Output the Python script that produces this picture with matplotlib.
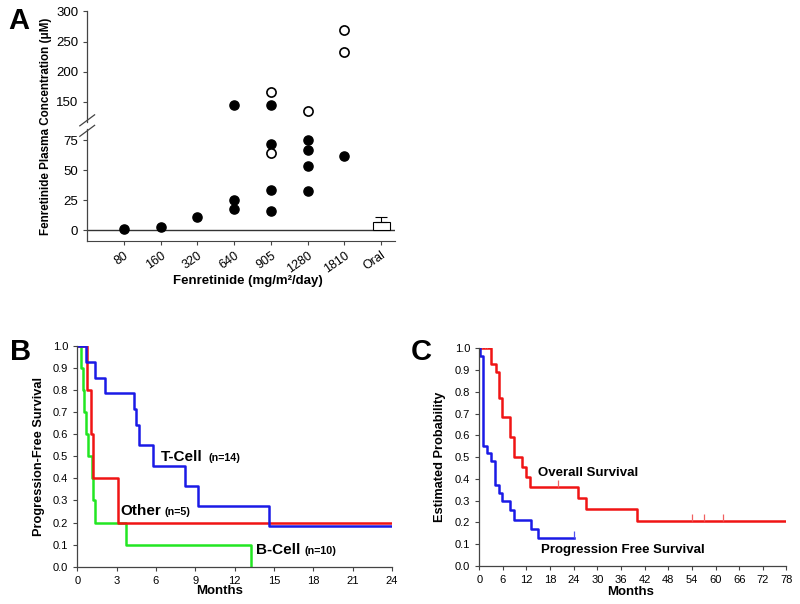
import numpy as np
import matplotlib
matplotlib.use('Agg')
import matplotlib.pyplot as plt

plt.rcParams['font.family'] = ['Liberation Sans', 'DejaVu Sans']

# ---- Panel A data
dose_labels = ['80', '160', '320', '640', '905', '1280', '1810', 'Oral']
filled_x = [1, 2, 3, 4, 4, 4, 5, 5, 5, 5, 6, 6, 6, 6, 7]
filled_y = [1.1, 2.8, 11.4, 144.5, 25.5, 18.0, 145.0, 71.7, 33.3, 15.6, 75.3, 67.0, 53.3, 32.5, 62.0]
open_x = [5, 5, 6, 7, 7]
open_y = [165.5, 64.4, 135.5, 269.5, 232.0]
oral_mean = 7.2
oral_err = 4.2
yticks_a = [0, 25, 50, 75, 150, 200, 250, 300]

# ---- Panel B data (Kaplan-Meier steps)
t_cell_t = [0, 0.66, 1.32, 2.1, 4.3, 4.47, 4.67, 5.8, 8.2, 9.17, 14.63, 24]
t_cell_s = [1.0, 0.929, 0.857, 0.786, 0.714, 0.643, 0.55, 0.458, 0.367, 0.275, 0.183, 0.183]
other_t = [0, 0.73, 1.08, 1.2, 3.07, 24]
other_s = [1.0, 0.8, 0.6, 0.4, 0.2, 0.2]
b_cell_t = [0, 0.25, 0.46, 0.51, 0.66, 0.84, 1.14, 1.19, 1.32, 3.73, 13.23]
b_cell_s = [1.0, 0.9, 0.8, 0.7, 0.6, 0.5, 0.4, 0.3, 0.2, 0.1, 0.0]

# ---- Panel C data
os_t = [0, 3.0, 4.2, 5.07, 5.8, 7.86, 8.96, 10.9, 11.8, 12.85, 25.1, 27.0, 40.0, 78]
os_s = [1.0, 0.93, 0.89, 0.77, 0.685, 0.594, 0.5, 0.455, 0.41, 0.364, 0.312, 0.26, 0.209, 0.209]
os_cens_t = [0.8, 1.4, 2.0, 20, 54, 57, 62]
pfs_t = [0, 0.3, 0.93, 1.94, 2.96, 4.06, 5.0, 5.8, 7.9, 8.9, 13.1, 15.0, 24.1]
pfs_s = [1.0, 0.966, 0.55, 0.517, 0.483, 0.37, 0.335, 0.297, 0.259, 0.212, 0.169, 0.127, 0.127]
pfs_cens_t = [24.1]

BLUE = '#1a1ae6'
RED = '#f01414'
GREEN = '#22e622'
SPINE = '#444444'

# broken y scale for panel A
vals = [-1000, 84, 124, 1000]
scr = [-1200, 100.8, 112.65, 128.3 + 0.602 * 850]


def fwd(y):
    return np.interp(y, vals, scr)


def inv(s):
    return np.interp(s, scr, vals)


def km_value(t, times, surv):
    i = np.searchsorted(times, t, side='right') - 1
    return surv[i]


fig = plt.figure(figsize=(8, 6.04), dpi=100)

# ================= A
axA = fig.add_axes([0.109, 0.601, 0.385, 0.380])
axA.set_yscale('function', functions=(fwd, inv))
axA.set_ylim(-9, 300)
axA.set_xlim(0, 8.38)
axA.plot(filled_x, filled_y, 'o', ms=6.6, color='black', mec='black', zorder=3)
axA.plot(open_x, open_y, 'o', ms=6.6, mfc='white', mec='black', mew=1.2, zorder=3)
axA.bar([8], [oral_mean], width=0.47, color='white', edgecolor='black', lw=0.8,
        yerr=[[0], [oral_err]], capsize=4, error_kw=dict(lw=0.8, capthick=0.8), zorder=2)
axA.axhline(0, color='#333333', lw=1.0, zorder=1)
axA.set_yticks(yticks_a)
axA.set_yticklabels([str(v) for v in yticks_a])
axA.set_xticks(range(1, 9))
axA.set_xticklabels(dose_labels, rotation=35, ha='right', rotation_mode='anchor')
axA.tick_params(axis='both', direction='out', length=3, width=0.8, color=SPINE, labelsize=9.5)
axA.tick_params(axis='x', pad=3, labelsize=9)
for s in ['top', 'right', 'left']:
    axA.spines[s].set_visible(False)
axA.spines['bottom'].set_color(SPINE)
# left spine with break marks
ytr = axA.get_yaxis_transform()
lo_c, hi_c = 99.3, 109.8
axA.plot([0, 0], [-9, inv(lo_c + 2)], color=SPINE, lw=0.9, transform=ytr, clip_on=False)
axA.plot([0, 0], [inv(hi_c - 2), 300], color=SPINE, lw=0.9, transform=ytr, clip_on=False)
for c in (lo_c, hi_c):
    axA.plot([-0.024, 0.024], [inv(c - 5.5), inv(c + 5.5)], color=SPINE, lw=0.9,
             transform=ytr, clip_on=False)
axA.set_ylabel('Fenretinide Plasma Concentration (μM)', fontsize=8.4, fontweight='bold')
axA.yaxis.set_label_coords(-0.113, 0.5)
axA.set_xlabel('Fenretinide (mg/m²/day)', fontsize=9.5, fontweight='bold')
axA.xaxis.set_label_coords(0.523, -0.15)

# ================= B
axB = fig.add_axes([0.0966, 0.0618, 0.3934, 0.3654])
axB.plot(b_cell_t, b_cell_s, drawstyle='steps-post', color=GREEN, lw=1.8)
axB.plot(other_t, other_s, drawstyle='steps-post', color=RED, lw=1.8)
axB.plot(t_cell_t, t_cell_s, drawstyle='steps-post', color=BLUE, lw=1.8)
axB.set_xlim(0, 24)
axB.set_ylim(0, 1.0)
axB.set_xticks(range(0, 25, 3))
axB.set_yticks(np.arange(0, 1.01, 0.1))
axB.set_yticklabels([f'{v:.1f}' for v in np.arange(0, 1.01, 0.1)])
axB.text(6.38, 0.481, 'T-Cell', fontsize=11, fontweight='bold')
axB.text(9.98, 0.481, '(n=14)', fontsize=7.7, fontweight='bold')
axB.text(3.3, 0.234, 'Other', fontsize=11, fontweight='bold')
axB.text(6.68, 0.234, '(n=5)', fontsize=7.7, fontweight='bold')
axB.text(13.6, 0.058, 'B-Cell', fontsize=11, fontweight='bold')
axB.text(17.3, 0.058, '(n=10)', fontsize=7.7, fontweight='bold')
axB.set_ylabel('Progression-Free Survival', fontsize=9.2, fontweight='bold')
axB.yaxis.set_label_coords(-0.1025, 0.5)
axB.set_xlabel('Months', fontsize=9.5, fontweight='bold')
axB.xaxis.set_label_coords(0.453, -0.085)

# ================= C
axC = fig.add_axes([0.599, 0.0629, 0.384, 0.3604])
axC.plot(os_t, os_s, drawstyle='steps-post', color=RED, lw=1.8)
axC.plot(pfs_t, pfs_s, drawstyle='steps-post', color=BLUE, lw=1.8)
axC.plot(os_cens_t, [km_value(t, os_t, os_s) for t in os_cens_t], linestyle='none',
         marker=2, ms=5, mew=0.9, color='#f06060')
axC.plot(pfs_cens_t, [km_value(t, pfs_t, pfs_s) for t in pfs_cens_t], linestyle='none',
         marker=2, ms=5, mew=0.9, color='#5050f0')
axC.set_xlim(0, 78)
axC.set_ylim(0, 1.0)
axC.set_xticks(range(0, 79, 6))
axC.set_yticks(np.arange(0, 1.01, 0.1))
axC.set_yticklabels([f'{v:.1f}' for v in np.arange(0, 1.01, 0.1)])
axC.text(15.0, 0.415, 'Overall Survival', fontsize=9.5, fontweight='bold')
axC.text(15.6, 0.058, 'Progression Free Survival', fontsize=9.5, fontweight='bold')
axC.set_ylabel('Estimated Probability', fontsize=9.2, fontweight='bold')
axC.yaxis.set_label_coords(-0.108, 0.5)
axC.set_xlabel('Months', fontsize=9.5, fontweight='bold')
axC.xaxis.set_label_coords(0.492, -0.09)

for ax in (axB, axC):
    for s in ['top', 'right']:
        ax.spines[s].set_visible(False)
    for s in ['left', 'bottom']:
        ax.spines[s].set_color(SPINE)
        ax.spines[s].set_linewidth(0.9)
    ax.tick_params(axis='both', direction='out', length=3, width=0.8, color=SPINE, labelsize=8)

fig.text(0.010, 0.988, 'A', fontsize=21, fontweight='bold', va='top')
fig.text(0.012, 0.440, 'B', fontsize=21, fontweight='bold', va='top')
fig.text(0.513, 0.440, 'C', fontsize=21, fontweight='bold', va='top')

fig.savefig('out.png', dpi=100)
